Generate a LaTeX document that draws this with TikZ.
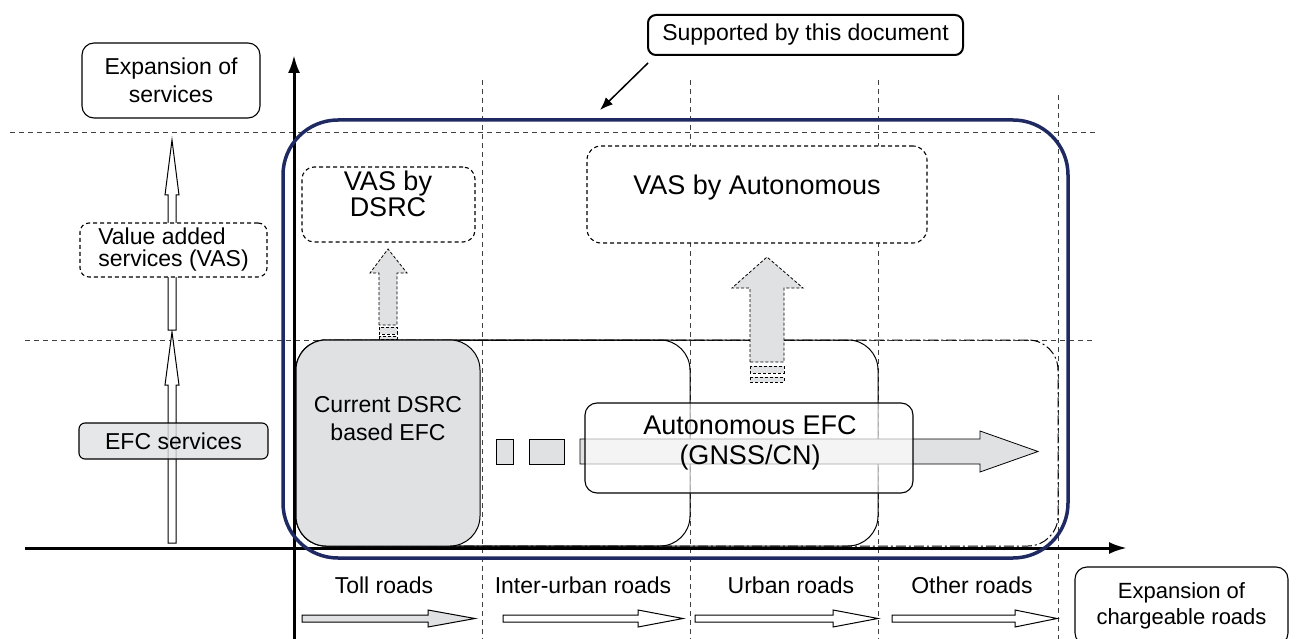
\documentclass[tikz,border=0pt]{standalone}
\usepackage{fontspec}
\setmainfont{Liberation Sans}
\usetikzlibrary{arrows.meta}

\definecolor{navy}{RGB}{31,42,99}
\definecolor{boxgray}{RGB}{224,225,227}

\begin{document}
\begin{tikzpicture}[x=1pt, y=-1pt,
    grid/.style={line width=0.8pt, black!75, dash pattern=on 5pt off 4pt},
    box/.style={draw, line width=1.1pt, rounded corners=9pt, inner sep=0pt},
    dbox/.style={box, dash pattern=on 4pt off 3pt},
    zone/.style={draw, line width=1pt, rounded corners=30pt, minimum height=206, inner sep=0pt},
    txt/.style={font=\fontsize{23}{28}\selectfont, align=center},
    big/.style={font=\fontsize{27}{30}\selectfont, align=center, inner sep=0pt},
    road/.style={font=\fontsize{23}{26}\selectfont, inner sep=0pt},
    blk/.style={draw, line width=1pt},
    darr/.style={draw, fill=boxgray, line width=0.8pt, dash pattern=on 3pt off 2pt},
    axis/.style={line width=3pt, -{Latex[length=18pt,width=12pt]}}]
  \useasboundingbox (0,0) rectangle (1296,639);

  % grid
  \draw[grid] (10,132) -- (1095,132);
  \draw[grid] (25,340) -- (1095,340);
  \foreach \x/\y in {482/80, 690/80, 878/80, 1058/95}
    \draw[grid] (\x,\y) -- (\x,639);

  % road zones
  \node[zone, dash pattern=on 10pt off 3pt on 2pt off 3pt, minimum width=762] (other) at (677,443) {};
  \node[zone, minimum width=582] (urban) at (587,443) {};
  \node[zone, minimum width=394] (inter) at (493,443) {};
  \node[zone, fill=boxgray, minimum width=184] (toll) at (388,443) {};
  \node[txt, inner sep=0pt] (tollt) at (388,419) {Current DSRC\\based EFC};

  % migration to autonomous
  \draw[blk, fill=boxgray, line width=0.8pt] (496,439) rectangle (513,464);
  \draw[blk, fill=boxgray, line width=0.8pt] (529,439) rectangle (564,464);
  \draw[blk, fill=boxgray, line width=0.8pt] (580,439) -- (980,439) -- (980,431) -- (1038,451.5)
    -- (980,472) -- (980,464) -- (580,464) -- cycle;
  \node[box, fill=white, fill opacity=0.65, rounded corners=12pt, minimum width=328, minimum height=90] (auto) at (749,448) {};
  \node[big] (autot) at (750,443) {Autonomous EFC\\(GNSS/CN)};

  % value added services
  \draw[darr] (379,325) -- (379,273) -- (370,273) -- (388,249) -- (407,273) -- (397,273) -- (397,325) -- cycle;
  \draw[darr] (379,327) rectangle (397,334);
  \draw[darr] (379,336) rectangle (397,339);
  \draw[darr] (750,362) -- (750,288) -- (732,288) -- (767,257) -- (803,288) -- (784,288) -- (784,362) -- cycle;
  \draw[darr] (750,366) rectangle (784,373);
  \draw[darr] (750,377) rectangle (784,382);
  \node[dbox, fill=white, rounded corners=12pt, minimum width=173, minimum height=75] (vasd) at (388.5,204.5) {};
  \node[font=\fontsize{27}{23}\selectfont, align=center, inner sep=0pt] (vasdt) at (388,194) {VAS by\\DSRC};
  \node[dbox, fill=white, rounded corners=14pt, minimum width=340, minimum height=97] (vasa) at (757,194.5) {};
  \node[big] (vasat) at (757,188) {VAS by Autonomous};

  % services column
  \draw[blk, fill=white] (168,543) -- (168,385) -- (165,385) -- (172,332) -- (179,385) -- (176,385) -- (176,543) -- cycle;
  \draw[blk, fill=white] (168,330) -- (168,195) -- (165,195) -- (172,140) -- (179,195) -- (176,195) -- (176,330) -- cycle;
  \node[box, txt, fill=white, rounded corners=12pt, minimum width=178, minimum height=75] (exps) at (171,80.5) {Expansion of\\services};
  \node[dbox, fill=white, minimum width=187, minimum height=54, align=left,
        font=\fontsize{23}{22}\selectfont] (vas) at (173.5,250) {Value added\\services (VAS)};
  \node[box, fill=boxgray, fill opacity=0.8, text opacity=1, rounded corners=6pt, minimum width=189, minimum height=36,
        font=\fontsize{23}{28}\selectfont] (efc) at (173.5,441) {EFC services};

  % axes
  \coordinate (ybot) at (294,639);
  \coordinate (ytop) at (294,55);
  \coordinate (xlft) at (25,548);
  \coordinate (xrgt) at (1127,548);
  \draw[axis] (ybot) -- (ytop);
  \draw[axis] (xlft) -- (xrgt);

  % scope of this document
  \node[draw=navy, line width=3.5pt, rounded corners=55pt, minimum width=785, minimum height=438] (scope) at (675.5,339) {};
  \node[box, line width=2pt, rounded corners=8pt, minimum width=315, minimum height=40,
        font=\fontsize{23}{28}\selectfont] (supp) at (805.5,35) {Supported by this document};
  \coordinate (suppa) at (648,63);
  \coordinate (suppb) at (600,110);
  \draw[line width=1.5pt, -{Latex[length=13pt,width=10pt]}] (suppa) -- (suppb);

  % roads
  \node[road] (tolll) at (384,585) {Toll roads};
  \node[road] (interl) at (583,585) {Inter-urban roads};
  \node[road] (urbanl) at (791,585) {Urban roads};
  \node[road] (otherl) at (972,585) {Other roads};
  \foreach \a/\b/\c/\f in {302/428/475/boxgray, 503/638/683/white, 695/833/878/white, 892/1015/1057/white}
    \draw[blk, fill=\f] (\a,615) -- (\b,615) -- (\b,610) -- (\c,618.5) -- (\b,627) -- (\b,622) -- (\a,622) -- cycle;
  \node[box, txt, rounded corners=12pt, minimum width=213, minimum height=78,
        font=\fontsize{22}{26}\selectfont] (expr) at (1181.5,606) {Expansion of\\chargeable roads};
\end{tikzpicture}
\end{document}
